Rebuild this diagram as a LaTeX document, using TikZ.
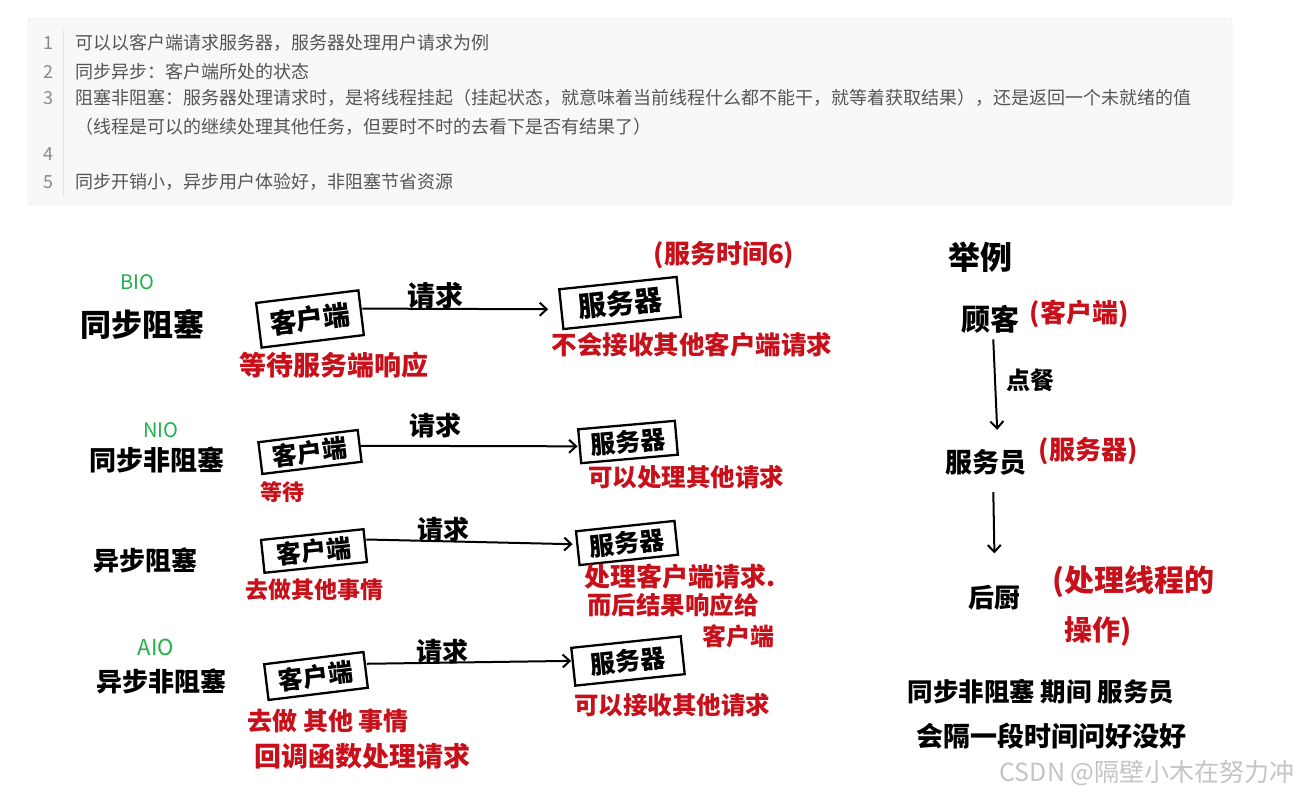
\documentclass[tikz,border=0pt]{standalone}
\usepackage{fontspec}
\setmainfont{Noto Sans CJK SC}
\usetikzlibrary{arrows.meta}
\definecolor{codebg}{HTML}{F8F8F8}
\definecolor{codeframe}{HTML}{E4E4E4}
\definecolor{codetext}{HTML}{555555}
\definecolor{lineno}{HTML}{8A8A8A}
\definecolor{hred}{HTML}{C8101A}
\definecolor{hgreen}{HTML}{22B04A}
\definecolor{wmark}{HTML}{C4C4C4}
\newcommand{\fsz}[1]{\fontsize{#1}{#1}\selectfont}
\begin{document}
\begin{tikzpicture}[x=1pt,y=-1pt,
  code/.style={anchor=west, inner sep=0, text=codetext, font=\fsz{18}},
  num/.style={inner sep=0, text=lineno, font=\fsz{18}},
  lab/.style={inner sep=0, font=\fsz{#1}\bfseries},
  lab/.default=27,
  redtxt/.style={inner sep=0, text=hred, font=\fsz{#1}\bfseries},
  redtxt/.default=25,
  grn/.style={inner sep=0, text=hgreen, font=\fsz{20}},
  hbox/.style={draw, line width=2.3, inner sep=0, font=\fsz{#1}\bfseries},
  hbox/.default=25,
  conn/.style={line width=2, -{Straight Barb[length=7pt,width=13pt]}}]
\useasboundingbox (0,0) rectangle (1302,795);
\fill[white] (0,0) rectangle (1302,795);

% ---- code block ----
\draw[codeframe, fill=codebg, rounded corners=3] (28,18) rectangle (1232,205);
\draw[codeframe, line width=1] (63,30) -- (63,197);
\node[num] (n1) at (48,43) {1};
\node[num] (n2) at (48,72) {2};
\node[num] (n3) at (48,98) {3};
\node[num] (n4) at (48,154) {4};
\node[num] (n5) at (48,182) {5};
\node[code] (l1) at (75,43) {可以以客户端请求服务器，服务器处理用户请求为例};
\node[code] (l2) at (75,72) {同步异步：客户端所处的状态};
\node[code] (l3) at (75,98) {阻塞非阻塞：服务器处理请求时，是将线程挂起（挂起状态，就意味着当前线程什么都不能干，就等着获取结果），还是返回一个未就绪的值};
\node[code] (l3b) at (75,127) {（线程是可以的继续处理其他任务，但要时不时的去看下是否有结果了）};
\node[code] (l5) at (75,182) {同步开销小，异步用户体验好，非阻塞节省资源};

% ---- row 1: BIO ----
\node[grn] (bio) at (137,282) {BIO};
\node[lab=31] (r1) at (142,324) {同步阻塞};
\node[hbox=27, minimum width=103, minimum height=45, rotate=7] (c1) at (310,319) {客户端};
\node[hbox=28, minimum width=118, minimum height=40, rotate=6] (s1) at (620,303) {服务器};
\draw[conn, shorten >=12] ([yshift=4]c1.east) -- (s1.west);
\node[lab=28] (q1) at (435,296) {请求};
\node[redtxt=27] (t1a) at (334,365) {等待服务端响应};
\node[redtxt=25.5] (t1b) at (692,345) {不会接收其他客户端请求};
\node[redtxt=26] (t1c) at (724,255) {(服务时间6)};

% ---- row 2: NIO ----
\node[grn] (nio) at (161,430) {NIO};
\node[lab=27] (r2) at (157,460) {同步非阻塞};
\node[hbox, minimum width=100, minimum height=32, rotate=7] (c2) at (310,452) {客户端};
\node[hbox, minimum width=97, minimum height=34, rotate=5] (s2) at (628,442) {服务器};
\draw[conn, shorten >=1] (c2.east) -- (s2.west);
\node[lab=26] (q2) at (435,426) {请求};
\node[redtxt=22] (t2a) at (282,492) {等待};
\node[redtxt=24.5] (t2b) at (686,477) {可以处理其他请求};

% ---- row 3 ----
\node[lab=26] (r3) at (145,560) {异步阻塞};
\node[hbox, minimum width=103, minimum height=33, rotate=6] (c3) at (314,551) {客户端};
\node[hbox, minimum width=99, minimum height=34, rotate=6] (s3) at (627,543) {服务器};
\draw[conn, shorten >=4] ([yshift=6]c3.east) -- ([yshift=4]s3.west);
\node[lab=26] (q3) at (443,530) {请求};
\node[redtxt=23] (t3a) at (314,590) {去做其他事情};
\node[redtxt=26] (t3b) at (680,577) {处理客户端请求.};
\node[redtxt=24.5] (t3c) at (673,605) {而后结果响应给};
\node[redtxt=24] (t3d) at (738,636) {客户端};

% ---- row 4: AIO ----
\node[grn, font=\fsz{22}] (aio) at (156,647) {AIO};
\node[lab=26] (r4) at (161,681) {异步非阻塞};
\node[hbox, minimum width=100, minimum height=36, rotate=7] (c4) at (316,676) {客户端};
\node[hbox, minimum width=110, minimum height=38, rotate=6] (s4) at (628,661) {服务器};
\draw[conn, shorten >=1] ([yshift=6]c4.east) -- ([yshift=6]s4.west);
\node[lab=26] (q4) at (442,652) {请求};
\node[redtxt=25] (t4a) at (328,721) {去做 其他 事情};
\node[redtxt=27] (t4b) at (362,756) {回调函数处理请求};
\node[redtxt=24.5] (t4c) at (672,705) {可以接收其他请求};

% ---- right: example ----
\node[lab=32] (eg) at (980,257) {举例};
\node[lab=29] (gk) at (990,319) {顾客};
\node[redtxt=26] (gkr) at (1079,314) {(客户端)};
\node[lab=27] (fwy) at (986,462) {服务员};
\node[redtxt=26] (fwyr) at (1088,451) {(服务器)};
\node[lab=26] (hc) at (994,598) {后厨};
\node[redtxt=30] (hcr1) at (1133,582) {(处理线程的};
\node[redtxt=28] (hcr2) at (1098,631) {操作)};
\draw[conn, shorten <=6, shorten >=19] ([xshift=3]gk.south) -- ([xshift=12]fwy.north);
\node[lab=24] (dc) at (1030,380) {点餐};
\draw[conn, shorten <=17, shorten >=32] ([xshift=7]fwy.south) -- ([xshift=1]hc.north);
\node[lab=25.5] (m1) at (1041,692) {同步非阻塞 期间 服务员};
\node[lab=27] (m2) at (1051,736) {会隔一段时间问好没好};
\node[inner sep=0, text=wmark, font=\fsz{25}] (wm) at (1147,773) {CSDN @隔壁小木在努力冲};
\end{tikzpicture}
\end{document}
